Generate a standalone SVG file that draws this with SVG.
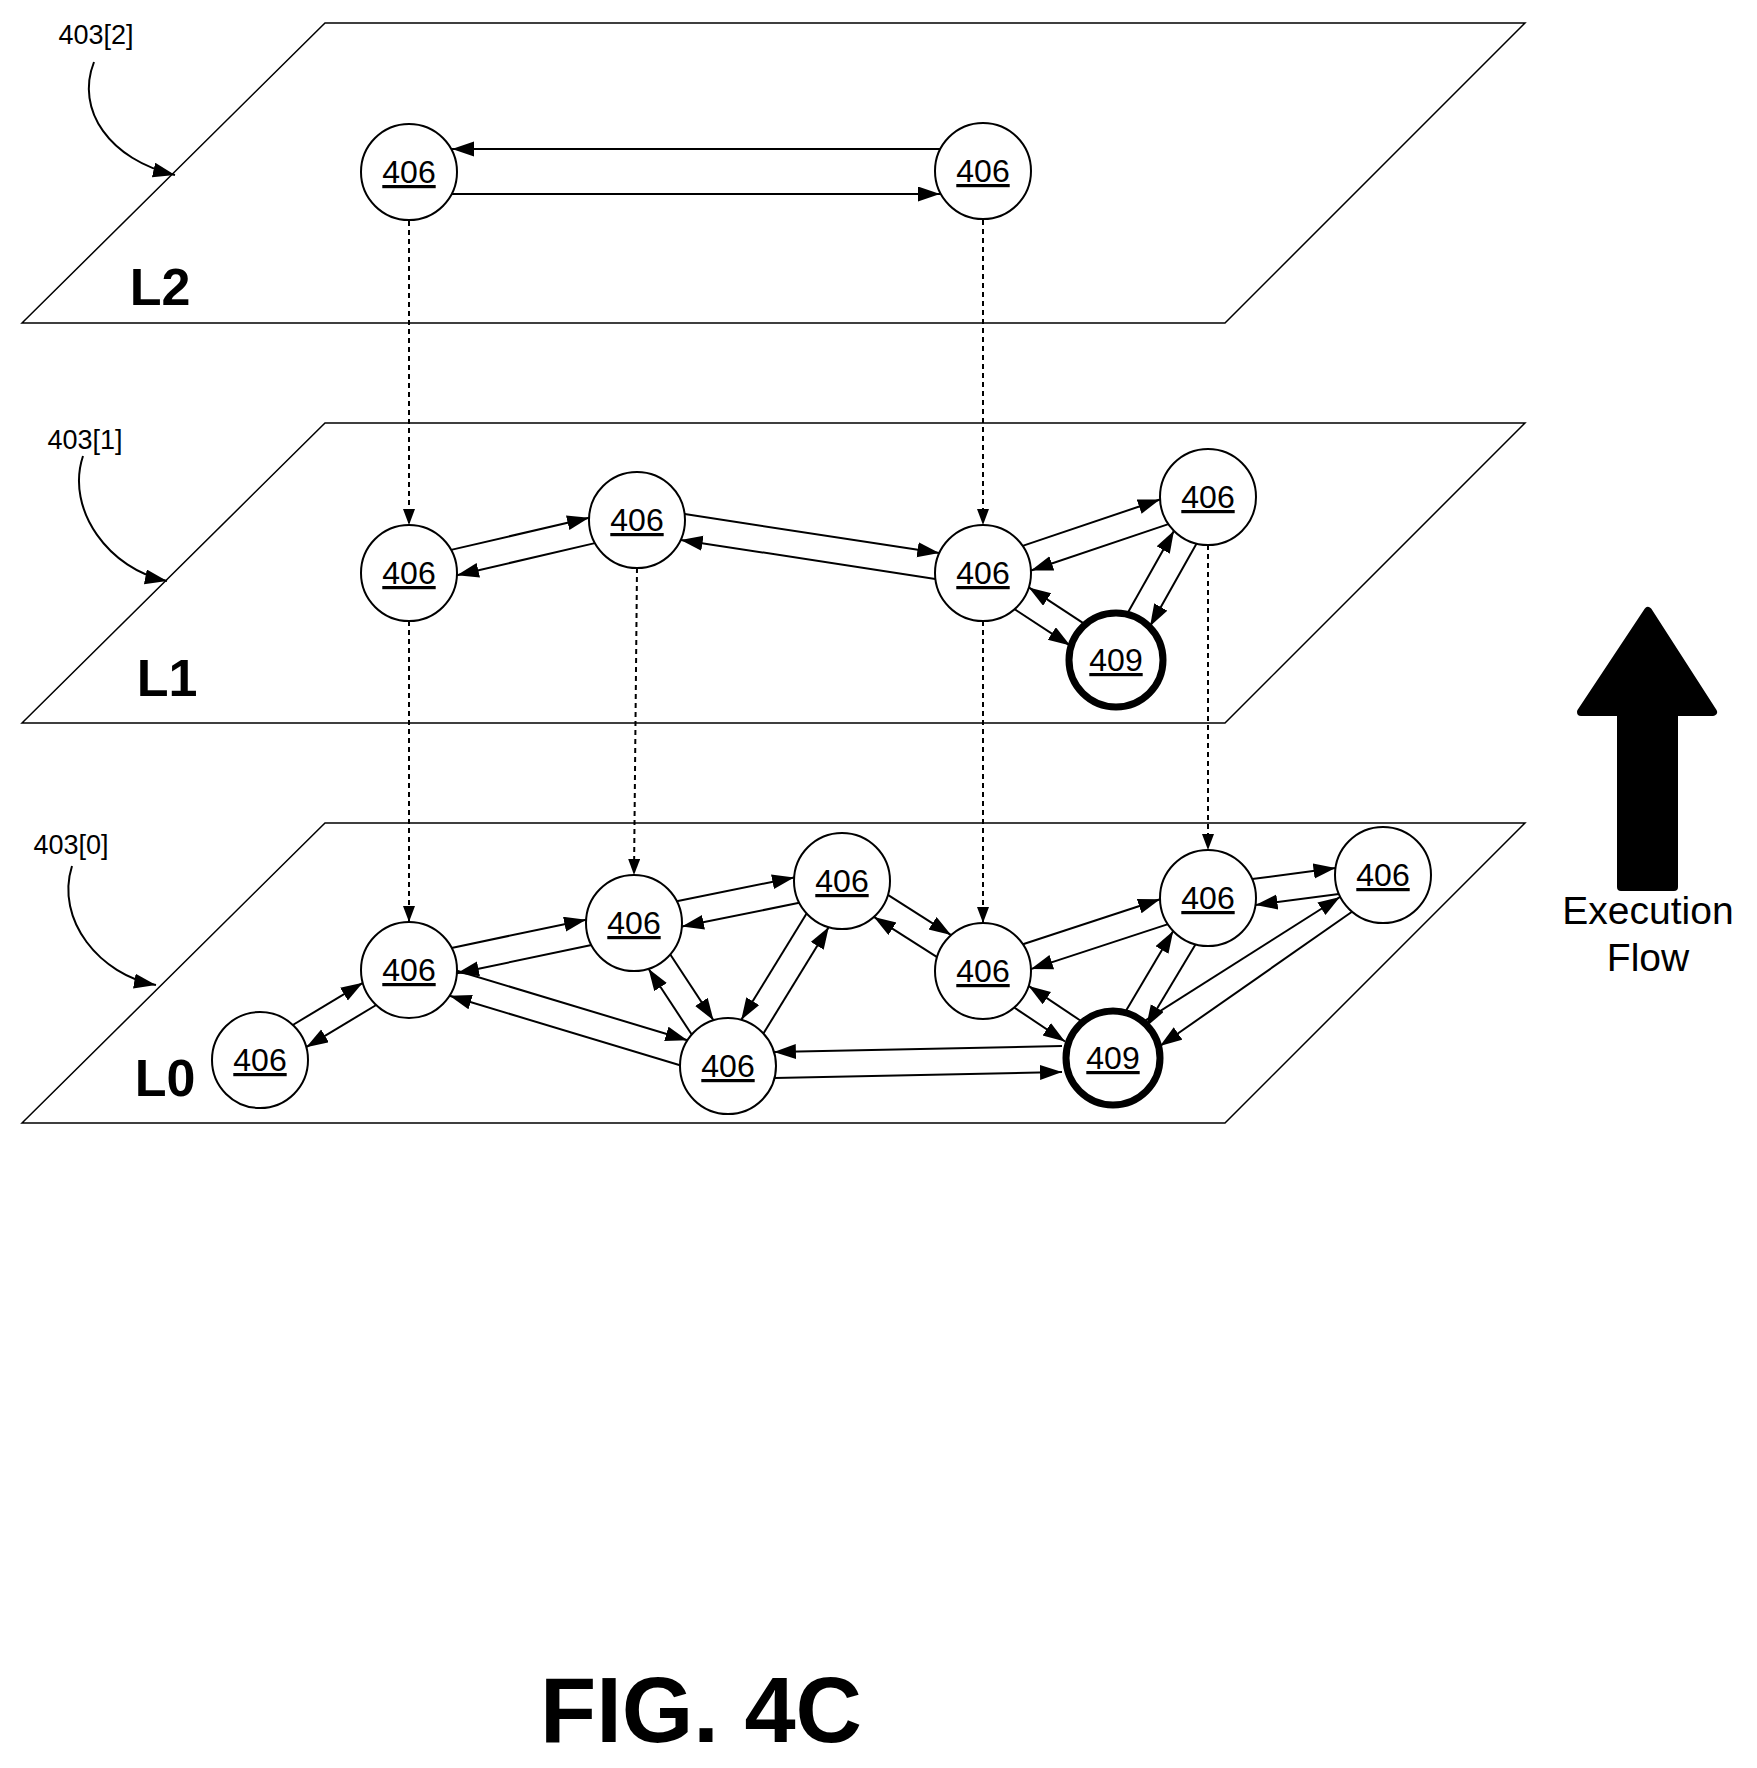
<svg xmlns="http://www.w3.org/2000/svg" width="1757" height="1768" viewBox="0 0 1757 1768">
<defs>
<style>
.plane{fill:none;stroke:#000;stroke-width:1.5}
.n{fill:#fff;stroke:#000;stroke-width:2}
.t{stroke:#000;stroke-width:7}
.nt{font-family:"Liberation Sans",Arial,sans-serif;font-size:32px;text-anchor:middle;text-decoration:underline}
.e{stroke:#000;stroke-width:2;fill:none;marker-end:url(#ah)}
.d{stroke:#000;stroke-width:2;fill:none;stroke-dasharray:5,4;marker-end:url(#ahs)}
.lab{font-family:"Liberation Sans",Arial,sans-serif;font-size:27px}
.ex{font-family:"Liberation Sans",Arial,sans-serif;font-size:39px;text-anchor:middle}
.L{font-family:"Liberation Sans",Arial,sans-serif;font-size:52px;font-weight:bold}
</style>
<marker id="ah" markerUnits="userSpaceOnUse" markerWidth="24" markerHeight="16" refX="22" refY="7.5" orient="auto"><path d="M0,0 L22,7.5 L0,15 z"/></marker>
<marker id="ahs" markerUnits="userSpaceOnUse" markerWidth="18" markerHeight="14" refX="16" refY="6" orient="auto"><path d="M0,0 L16,6 L0,12 z"/></marker>
</defs>
<g id="planes">
<path class="plane" d="M22,323 L325,23 L1525,23 L1225,323 Z"/>
<path class="plane" d="M22,723 L325,423 L1525,423 L1225,723 Z"/>
<path class="plane" d="M22,1123 L325,823 L1525,823 L1225,1123 Z"/>
</g>
<g id="labels">
<text class="lab" x="96" y="44" text-anchor="middle">403[2]</text>
<text class="lab" x="85" y="449" text-anchor="middle">403[1]</text>
<text class="lab" x="71" y="854" text-anchor="middle">403[0]</text>
<text class="L" x="160" y="305" text-anchor="middle">L2</text>
<text class="L" x="167" y="696" text-anchor="middle">L1</text>
<text class="L" x="165" y="1096" text-anchor="middle">L0</text>
<text x="701" y="1742" text-anchor="middle" font-family="Liberation Sans,Arial,sans-serif" font-size="92" font-weight="bold">FIG. 4C</text>
<path class="e" d="M94,62 C75,110 110,160 175,175"/>
<path class="e" d="M83,456 C65,510 110,570 167,581"/>
<path class="e" d="M72,866 C55,920 100,975 156,985"/>
</g>
<g id="connectors">
<line class="e" x1="940" y1="149" x2="452" y2="149"/>
<line class="e" x1="452" y1="194" x2="940" y2="194"/>
<line class="d" x1="409" y1="221" x2="409" y2="525"/>
<line class="d" x1="983" y1="220" x2="983" y2="525"/>
<line class="d" x1="409" y1="621" x2="409" y2="922"/>
<line class="d" x1="637" y1="568" x2="634" y2="875"/>
<line class="d" x1="983" y1="621" x2="983" y2="923"/>
<line class="d" x1="1208" y1="545" x2="1208" y2="850"/>
<line class="e" x1="451.1" y1="549.9" x2="589.1" y2="517.7"/>
<line class="e" x1="594.9" y1="543.1" x2="456.9" y2="575.3"/>
<line class="e" x1="684.7" y1="514.1" x2="939.3" y2="553.1"/>
<line class="e" x1="935.3" y1="578.9" x2="680.7" y2="539.9"/>
<line class="e" x1="1022.6" y1="545.9" x2="1160" y2="499.5"/>
<line class="e" x1="1168.4" y1="524.1" x2="1031" y2="570.5"/>
<line class="e" x1="1084.4" y1="623.8" x2="1028.8" y2="587.4"/>
<line class="e" x1="1014.6" y1="609.2" x2="1070.2" y2="645.6"/>
<line class="e" x1="1127.4" y1="613.4" x2="1174" y2="530.8"/>
<line class="e" x1="1196.6" y1="543.6" x2="1150" y2="626.2"/>
<line class="e" x1="292.8" y1="1025" x2="362.8" y2="982.8"/>
<line class="e" x1="376.2" y1="1005" x2="306.2" y2="1047.2"/>
<line class="e" x1="451.5" y1="947.9" x2="586.1" y2="919.7"/>
<line class="e" x1="591.5" y1="945.1" x2="456.9" y2="973.3"/>
<line class="e" x1="676.7" y1="901.2" x2="794.1" y2="877.4"/>
<line class="e" x1="799.3" y1="902.8" x2="681.9" y2="926.6"/>
<line class="e" x1="887.9" y1="894.9" x2="951.1" y2="935.1"/>
<line class="e" x1="937.1" y1="957.1" x2="873.9" y2="916.9"/>
<line class="e" x1="1022.9" y1="944.3" x2="1160.1" y2="899.3"/>
<line class="e" x1="1168.1" y1="924.1" x2="1030.9" y2="969.1"/>
<line class="e" x1="1252.1" y1="879.1" x2="1335.5" y2="868.1"/>
<line class="e" x1="1338.9" y1="893.9" x2="1255.5" y2="904.9"/>
<line class="e" x1="457" y1="970.8" x2="687.4" y2="1040.2"/>
<line class="e" x1="680" y1="1065.2" x2="449.6" y2="995.8"/>
<line class="e" x1="670.3" y1="954.5" x2="713.5" y2="1020.3"/>
<line class="e" x1="691.7" y1="1034.5" x2="648.5" y2="968.7"/>
<line class="e" x1="806.6" y1="913.5" x2="741.2" y2="1019.9"/>
<line class="e" x1="763.4" y1="1033.5" x2="828.8" y2="927.1"/>
<line class="e" x1="1062" y1="1046" x2="773.9" y2="1052"/>
<line class="e" x1="774.5" y1="1078" x2="1062" y2="1072"/>
<line class="e" x1="1081.8" y1="1021.5" x2="1028.6" y2="985.9"/>
<line class="e" x1="1014.2" y1="1007.5" x2="1065" y2="1041.5"/>
<line class="e" x1="1125.4" y1="1011.7" x2="1173.2" y2="931.1"/>
<line class="e" x1="1195.6" y1="944.3" x2="1146" y2="1027"/>
<line class="e" x1="1144" y1="1021.3" x2="1340" y2="897"/>
<line class="e" x1="1352" y1="911.7" x2="1160" y2="1046"/>
</g>
<g id="nodes">
<g id="n_A"><circle class="n" cx="409" cy="172" r="48"/><text class="nt" x="409" y="183">406</text></g>
<g id="n_B"><circle class="n" cx="983" cy="171" r="48"/><text class="nt" x="983" y="182">406</text></g>
<g id="n_C"><circle class="n" cx="409" cy="573" r="48"/><text class="nt" x="409" y="584">406</text></g>
<g id="n_D"><circle class="n" cx="637" cy="520" r="48"/><text class="nt" x="637" y="531">406</text></g>
<g id="n_E"><circle class="n" cx="983" cy="573" r="48"/><text class="nt" x="983" y="584">406</text></g>
<g id="n_F"><circle class="n" cx="1208" cy="497" r="48"/><text class="nt" x="1208" y="508">406</text></g>
<g id="n_G"><circle class="n t" cx="1116" cy="660" r="47"/><text class="nt" x="1116" y="671">409</text></g>
<g id="n_H"><circle class="n" cx="409" cy="970" r="48"/><text class="nt" x="409" y="981">406</text></g>
<g id="n_I"><circle class="n" cx="634" cy="923" r="48"/><text class="nt" x="634" y="934">406</text></g>
<g id="n_J"><circle class="n" cx="842" cy="881" r="48"/><text class="nt" x="842" y="892">406</text></g>
<g id="n_K"><circle class="n" cx="983" cy="971" r="48"/><text class="nt" x="983" y="982">406</text></g>
<g id="n_M"><circle class="n" cx="1208" cy="898" r="48"/><text class="nt" x="1208" y="909">406</text></g>
<g id="n_N"><circle class="n" cx="1383" cy="875" r="48"/><text class="nt" x="1383" y="886">406</text></g>
<g id="n_O"><circle class="n" cx="260" cy="1060" r="48"/><text class="nt" x="260" y="1071">406</text></g>
<g id="n_P"><circle class="n" cx="728" cy="1066" r="48"/><text class="nt" x="728" y="1077">406</text></g>
<g id="n_Q"><circle class="n t" cx="1113" cy="1058" r="47"/><text class="nt" x="1113" y="1069">409</text></g>
</g>
<g id="exec">
<path d="M1648,611 L1713,712 L1674,712 L1674,887 L1621,887 L1621,712 L1581,712 Z" fill="#000" stroke="#000" stroke-width="8" stroke-linejoin="round"/>
<text class="ex" x="1648" y="924">Execution</text>
<text class="ex" x="1648" y="971">Flow</text>
</g>
</svg>
